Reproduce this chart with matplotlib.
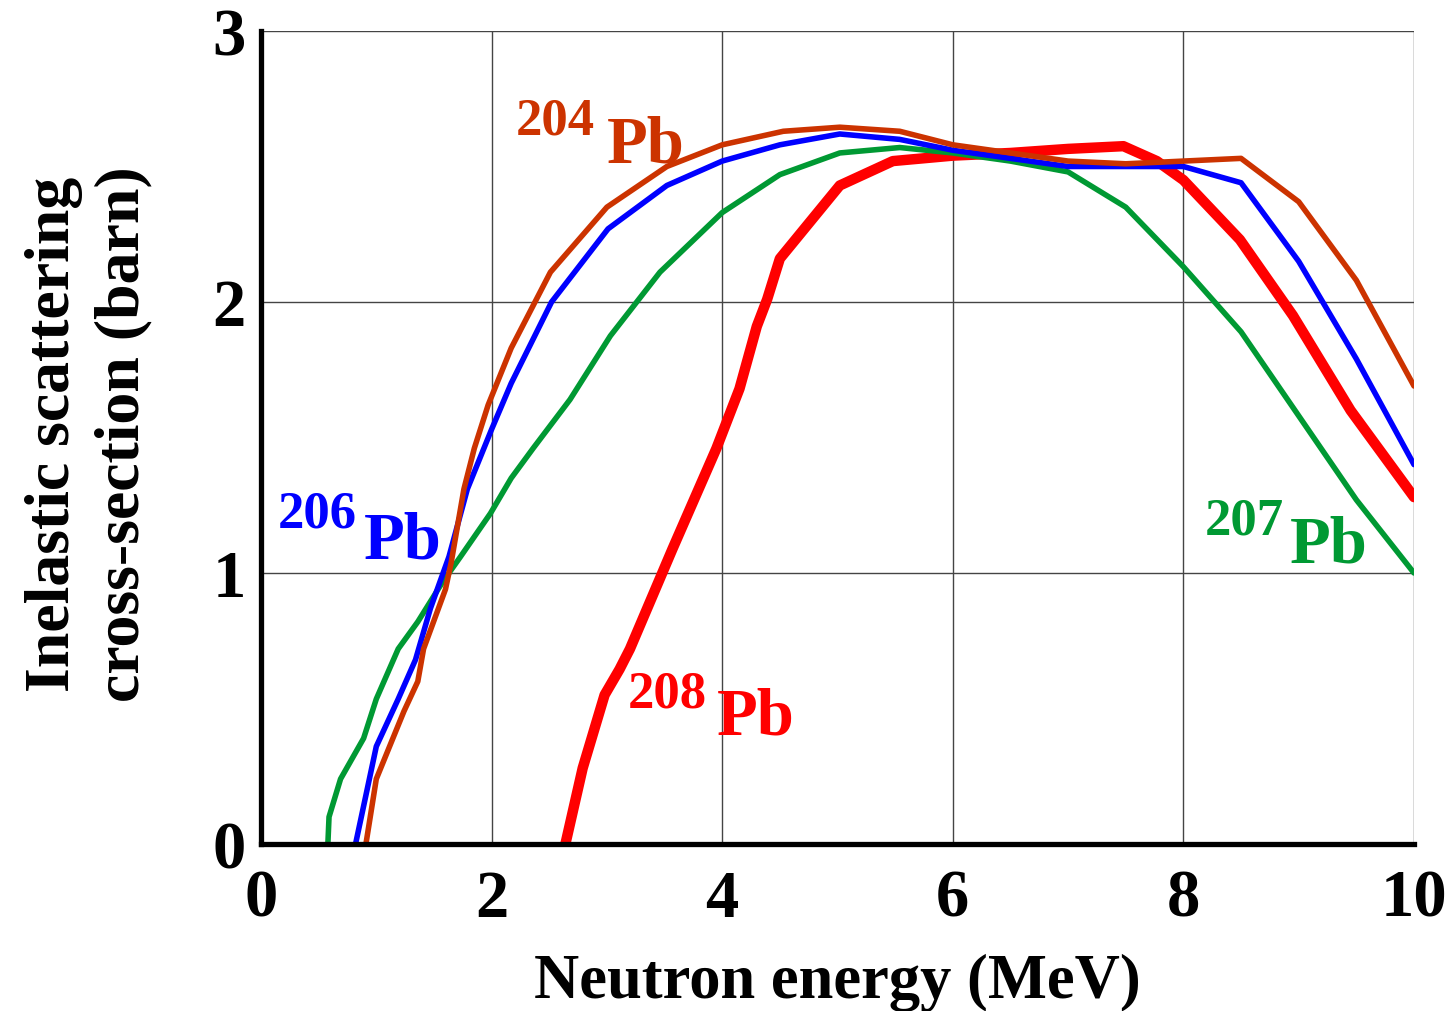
import numpy as np
import matplotlib
matplotlib.use("Agg")
import matplotlib.pyplot as plt

plt.rcParams['font.family'] = ['Liberation Serif', 'DejaVu Serif']
plt.rcParams['font.weight'] = 'bold'

# ---- data (energy in MeV, cross-section in barn) ----
e_204 = [0.91, 1.0, 1.24, 1.36, 1.41, 1.6, 1.65, 1.76, 1.85, 1.97, 2.17, 2.51, 3.0,
         3.52, 4.0, 4.53, 5.02, 5.54, 6.0, 6.5, 7.0, 7.5, 8.0, 8.5, 9.0, 9.5, 10.0]
s_204 = [0.0, 0.24, 0.49, 0.60, 0.72, 0.94, 1.04, 1.31, 1.46, 1.62, 1.83, 2.11, 2.35,
         2.50, 2.58, 2.63, 2.645, 2.63, 2.58, 2.55, 2.52, 2.51, 2.52, 2.53, 2.37, 2.08, 1.69]

e_206 = [0.82, 1.0, 1.19, 1.34, 1.47, 1.63, 1.79, 2.0, 2.17, 2.52, 3.01, 3.52, 4.0,
         4.5, 5.02, 5.54, 6.0, 6.5, 7.0, 7.5, 8.0, 8.5, 9.0, 9.5, 10.0]
s_206 = [0.0, 0.36, 0.535, 0.68, 0.87, 1.06, 1.31, 1.53, 1.70, 2.0, 2.27, 2.43, 2.52,
         2.58, 2.62, 2.60, 2.56, 2.53, 2.50, 2.50, 2.50, 2.44, 2.15, 1.79, 1.40]

e_207 = [0.58, 0.59, 0.69, 0.89, 1.0, 1.19, 1.36, 1.58, 1.73, 1.99, 2.17, 2.36, 2.68,
         3.03, 3.46, 4.0, 4.5, 5.02, 5.54, 6.0, 6.5, 7.0, 7.5, 8.0, 8.5, 9.0, 9.5, 10.0]
s_207 = [0.0, 0.10, 0.24, 0.39, 0.535, 0.72, 0.82, 0.97, 1.06, 1.22, 1.35, 1.46, 1.64,
         1.875, 2.11, 2.33, 2.47, 2.55, 2.57, 2.55, 2.52, 2.48, 2.35, 2.13, 1.89, 1.58, 1.27, 1.0]

e_208 = [2.64, 2.79, 2.98, 3.11, 3.2, 3.46, 3.57, 3.95, 4.15, 4.3, 4.39, 4.5, 5.02,
         5.48, 6.0, 6.5, 7.0, 7.48, 7.77, 8.0, 8.49, 8.95, 9.45, 10.0]
s_208 = [0.0, 0.28, 0.55, 0.645, 0.72, 0.98, 1.09, 1.46, 1.68, 1.91, 2.01, 2.16, 2.43,
         2.52, 2.54, 2.55, 2.565, 2.575, 2.52, 2.45, 2.23, 1.95, 1.60, 1.28]

x_ticks = [0, 2, 4, 6, 8, 10]
y_ticks = [0, 1, 2, 3]

c_204 = '#CC3300'
c_206 = '#0000FF'
c_207 = '#009933'
c_208 = '#FF0000'

fig = plt.figure(figsize=(14.51, 10.12), dpi=100)
ax = fig.add_axes([261 / 1451, 1 - 845 / 1012, 1153 / 1451, 813 / 1012])

kw = dict(solid_capstyle='round', solid_joinstyle='round')
ax.plot(e_208, s_208, color=c_208, lw=7.5, zorder=3, **kw)
ax.plot(e_207, s_207, color=c_207, lw=4, zorder=4, **kw)
ax.plot(e_206, s_206, color=c_206, lw=4, zorder=5, **kw)
ax.plot(e_204, s_204, color=c_204, lw=4, zorder=6, **kw)

ax.set_xlim(0, 10)
ax.set_ylim(0, 3)
ax.set_xticks(x_ticks)
ax.set_yticks(y_ticks)
ax.tick_params(length=0, labelsize=48)
ax.tick_params(axis='x', pad=18)
ax.tick_params(axis='y', pad=11)
ax.grid(True, color='#444444', lw=1.0)
ax.set_axisbelow(True)
for side in ['top', 'right']:
    ax.spines[side].set_visible(False)
for side in ['left', 'bottom']:
    ax.spines[side].set_linewidth(3.8)
    ax.spines[side].set_zorder(10)

# isotope labels: mass number as superscript, then "Pb"
labels = [
    ('204', 2.90, 2.62, 3.00, 2.52, c_204),
    ('206', 0.83, 1.173, 0.895, 1.059, c_206),
    ('207', 8.87, 1.144, 8.925, 1.041, c_207),
    ('208', 3.87, 0.509, 3.955, 0.406, c_208),
]
for num, xn, yn, xp, yp, col in labels:
    ax.text(xn, yn, num, color=col, fontsize=38, ha='right', va='baseline')
    ax.text(xp, yp, 'Pb', color=col, fontsize=48, ha='left', va='baseline')

fig.text(837 / 1451, 1 - 998 / 1012, 'Neutron energy (MeV)', fontsize=45,
         ha='center', va='baseline')
fig.text(89 / 1451, 1 - 434 / 1012, 'Inelastic scattering\ncross-section (barn)',
         fontsize=46, rotation=90, ha='center', va='center',
         multialignment='center', linespacing=1.25)

fig.savefig('out.png', dpi=100)
